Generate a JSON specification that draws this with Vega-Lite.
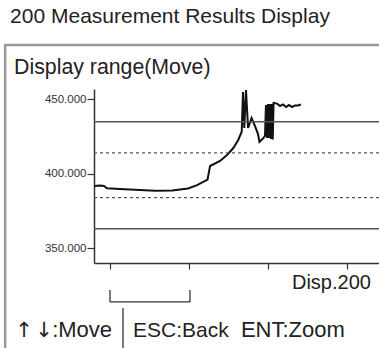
{
  "$schema": "https://vega.github.io/schema/vega-lite/v6.json",
  "width": 285,
  "height": 174,
  "autosize": {"type": "none"},
  "padding": {"left": 94, "top": 89, "right": 0, "bottom": 85},
  "background": "white",
  "config": {
    "view": {"stroke": null},
    "font": "Liberation Sans",
    "axis": {"grid": false, "domainColor": "#333", "tickColor": "#333", "domainWidth": 1.5, "tickWidth": 1.2}
  },
  "datasets": {
    "measurements": [
      {"x": 0, "y": 391.8}, {"x": 3.8, "y": 392.1}, {"x": 6.3, "y": 391.8}, {"x": 8.2, "y": 390.2},
      {"x": 16.4, "y": 389.8}, {"x": 29.1, "y": 389.1}, {"x": 38.5, "y": 388.5}, {"x": 49.3, "y": 388.7},
      {"x": 59.4, "y": 390.1}, {"x": 65.1, "y": 392.4}, {"x": 71.7, "y": 396.1}, {"x": 73.3, "y": 405.2},
      {"x": 79.6, "y": 408.6}, {"x": 84.0, "y": 412.6}, {"x": 88.0, "y": 417.3}, {"x": 91.1, "y": 422.7},
      {"x": 93.3, "y": 428.3}, {"x": 94.1, "y": 455.0}, {"x": 94.9, "y": 430.8}, {"x": 96.0, "y": 456.3},
      {"x": 97.3, "y": 430.8}, {"x": 99.5, "y": 437.5}, {"x": 101.7, "y": 432.1}, {"x": 103.6, "y": 426.7},
      {"x": 104.5, "y": 421.4}, {"x": 106.7, "y": 423.7}, {"x": 108.0, "y": 425.4}, {"x": 108.6, "y": 446.2},
      {"x": 109.3, "y": 424.0}, {"x": 109.9, "y": 446.9}, {"x": 110.5, "y": 424.0}, {"x": 111.2, "y": 446.9},
      {"x": 111.8, "y": 423.4}, {"x": 112.4, "y": 446.9}, {"x": 112.9, "y": 423.0}, {"x": 113.4, "y": 447.6},
      {"x": 115.6, "y": 447.2}, {"x": 117.5, "y": 445.6}, {"x": 119.4, "y": 446.6}, {"x": 121.3, "y": 444.9},
      {"x": 123.2, "y": 446.2}, {"x": 125.1, "y": 444.9}, {"x": 126.9, "y": 445.9}, {"x": 128.8, "y": 445.9},
      {"x": 130.7, "y": 446.6}
    ],
    "limits": [
      {"value": 435, "type": "limit"},
      {"value": 363, "type": "limit"},
      {"value": 414, "type": "warning"},
      {"value": 384, "type": "warning"}
    ],
    "single": [{}]
  },
  "layer": [
    {
      "data": {"name": "measurements"},
      "mark": {"type": "line", "color": "#111", "strokeWidth": 2, "clip": false},
      "encoding": {
        "x": {
          "field": "x", "type": "quantitative",
          "scale": {"domain": [0, 180], "nice": false, "zero": false},
          "axis": {"values": [10, 60, 110, 160], "labels": false, "title": null, "tickSize": 6}
        },
        "y": {
          "field": "y", "type": "quantitative",
          "scale": {"domain": [340, 457], "nice": false, "zero": false},
          "axis": {"values": [350, 400, 450], "format": ".3f", "title": null, "tickSize": 7, "labelPadding": 1, "labelFontSize": 11.5, "labelColor": "#333", "labelFont": "Liberation Sans"}
        }
      }
    },
    {
      "data": {"name": "limits"},
      "transform": [{"filter": "datum.type === 'limit'"}],
      "mark": {"type": "rule", "color": "#555", "strokeWidth": 1.5},
      "encoding": {"y": {"field": "value", "type": "quantitative", "title": null}}
    },
    {
      "data": {"name": "limits"},
      "transform": [{"filter": "datum.type === 'warning'"}],
      "mark": {"type": "rule", "color": "#555", "strokeWidth": 1.2, "strokeDash": [3, 3]},
      "encoding": {"y": {"field": "value", "type": "quantitative", "title": null}}
    },
    {
      "data": {"name": "single"},
      "mark": {"type": "rect", "fillOpacity": 0, "stroke": "#999", "strokeWidth": 2.5, "clip": false},
      "encoding": {
        "x": {"datum": -56.1, "type": "quantitative", "title": null},
        "x2": {"datum": 200},
        "y": {"datum": 486.6, "type": "quantitative", "title": null},
        "y2": {"datum": 250}
      }
    },
    {
      "data": {"name": "single"},
      "mark": {"type": "text", "align": "left", "baseline": "alphabetic", "fontSize": 21, "font": "Liberation Sans", "color": "#222"},
      "encoding": {
        "x": {"datum": -53, "type": "quantitative", "title": null},
        "y": {"datum": 501.4, "type": "quantitative", "title": null},
        "text": {"value": "200 Measurement Results Display"}
      }
    },
    {
      "data": {"name": "single"},
      "mark": {"type": "text", "align": "left", "baseline": "alphabetic", "fontSize": 21.3, "font": "Liberation Sans", "color": "#222"},
      "encoding": {
        "x": {"datum": -50.5, "type": "quantitative", "title": null},
        "y": {"datum": 467.1, "type": "quantitative", "title": null},
        "text": {"value": "Display range(Move)"}
      }
    },
    {
      "data": {"name": "single"},
      "mark": {"type": "text", "align": "right", "baseline": "alphabetic", "fontSize": 20, "font": "Liberation Sans", "color": "#222"},
      "encoding": {
        "x": {"datum": 174.9, "type": "quantitative", "title": null},
        "y": {"datum": 322.2, "type": "quantitative", "title": null},
        "text": {"value": "Disp.200"}
      }
    },
    {
      "data": {"name": "single"},
      "mark": {"type": "text", "align": "center", "baseline": "alphabetic", "fontSize": 21, "font": "DejaVu Sans", "color": "#222"},
      "encoding": {
        "x": {"datum": -44.2, "type": "quantitative", "title": null},
        "y": {"datum": 290.2, "type": "quantitative", "title": null},
        "text": {"value": "↑"}
      }
    },
    {
      "data": {"name": "single"},
      "mark": {"type": "text", "align": "center", "baseline": "alphabetic", "fontSize": 21, "font": "DejaVu Sans", "color": "#222"},
      "encoding": {
        "x": {"datum": -31.6, "type": "quantitative", "title": null},
        "y": {"datum": 290.2, "type": "quantitative", "title": null},
        "text": {"value": "↓"}
      }
    },
    {
      "data": {"name": "single"},
      "mark": {"type": "text", "align": "right", "baseline": "alphabetic", "fontSize": 22, "font": "Liberation Sans", "color": "#222"},
      "encoding": {
        "x": {"datum": 11.4, "type": "quantitative", "title": null},
        "y": {"datum": 290.2, "type": "quantitative", "title": null},
        "text": {"value": ":Move"}
      }
    },
    {
      "data": {"name": "single"},
      "mark": {"type": "text", "align": "left", "baseline": "alphabetic", "fontSize": 21, "font": "Liberation Sans", "color": "#222"},
      "encoding": {
        "x": {"datum": 24.6, "type": "quantitative", "title": null},
        "y": {"datum": 290.2, "type": "quantitative", "title": null},
        "text": {"value": "ESC:Back"}
      }
    },
    {
      "data": {"name": "single"},
      "mark": {"type": "text", "align": "left", "baseline": "alphabetic", "fontSize": 22, "font": "Liberation Sans", "color": "#222"},
      "encoding": {
        "x": {"datum": 92.8, "type": "quantitative", "title": null},
        "y": {"datum": 290.2, "type": "quantitative", "title": null},
        "text": {"value": "ENT:Zoom"}
      }
    },
    {
      "data": {"name": "single"},
      "mark": {"type": "rule", "color": "#333", "strokeWidth": 1.3},
      "encoding": {
        "x": {"datum": 18.3, "type": "quantitative", "title": null},
        "y": {"datum": 309.7, "type": "quantitative", "title": null},
        "y2": {"datum": 270}
      }
    },
    {
      "data": {"name": "single"},
      "mark": {"type": "rule", "color": "#333", "strokeWidth": 1.3},
      "encoding": {
        "x": {"datum": 10.1, "type": "quantitative", "title": null},
        "y": {"datum": 321.8, "type": "quantitative", "title": null},
        "y2": {"datum": 313.8}
      }
    },
    {
      "data": {"name": "single"},
      "mark": {"type": "rule", "color": "#333", "strokeWidth": 1.3},
      "encoding": {
        "x": {"datum": 60.6, "type": "quantitative", "title": null},
        "y": {"datum": 321.8, "type": "quantitative", "title": null},
        "y2": {"datum": 313.8}
      }
    },
    {
      "data": {"name": "single"},
      "mark": {"type": "rule", "color": "#333", "strokeWidth": 1.3},
      "encoding": {
        "x": {"datum": 10.1, "type": "quantitative", "title": null},
        "x2": {"datum": 60.6},
        "y": {"datum": 313.8, "type": "quantitative", "title": null}
      }
    }
  ]
}
